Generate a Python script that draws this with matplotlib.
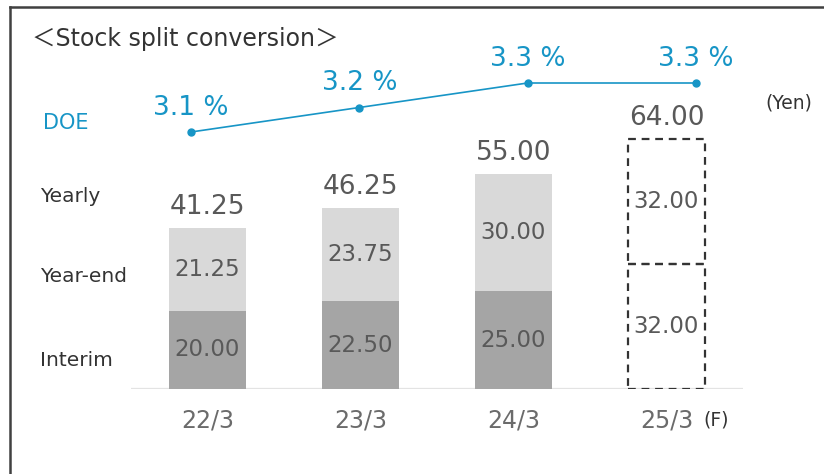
import matplotlib.pyplot as plt
from matplotlib.lines import Line2D
import numpy as np

# data
periods = ['22/3', '23/3', '24/3', '25/3']
interim = [20.00, 22.50, 25.00, 32.00]
year_end = [21.25, 23.75, 30.00, 32.00]
doe = [3.1, 3.2, 3.3, 3.3]
forecast = [False, False, False, True]

GRAY_TXT = '#595959'
DARK = '#a5a5a5'
LIGHT = '#d9d9d9'
BLUE = '#1795c6'
FONT = ['DejaVu Sans', 'Noto Sans CJK JP']

plt.rcParams['font.family'] = FONT

fig = plt.figure(figsize=(8.24, 4.74), dpi=100)
W, H = 824, 474
base_px = 389
# bar axes: baseline at y=389px, top of figure at top
ax = fig.add_axes([0, (H - base_px) / H, 1, base_px / H])
ax.set_xlim(-207.5 / 153, (W - 207.5) / 153)
ax.set_ylim(0, base_px / 3.906)
ax.axis('off')

x = np.arange(len(periods))
totals = [a + b for a, b in zip(interim, year_end)]
bw = 0.503

for i in x:
    if forecast[i]:
        ax.bar(i, interim[i], bw, facecolor='none', edgecolor='#333333',
               linestyle=(0, (3.5, 2.6)), linewidth=1.6, zorder=3)
        ax.bar(i, year_end[i], bw, bottom=interim[i], facecolor='none',
               edgecolor='#333333', linestyle=(0, (3.5, 2.6)), linewidth=1.6, zorder=3)
    else:
        ax.bar(i, interim[i], bw, color=DARK, zorder=2)
        ax.bar(i, year_end[i], bw, bottom=interim[i], color=LIGHT, zorder=2)
    ax.text(i, interim[i] / 2, f'{interim[i]:.2f}', ha='center', va='center',
            fontsize=16.5, color=GRAY_TXT, zorder=4)
    ax.text(i, interim[i] + year_end[i] / 2, f'{year_end[i]:.2f}', ha='center',
            va='center', fontsize=16.5, color=GRAY_TXT, zorder=4)
    ax.annotate(f'{totals[i]:.2f}', (i, totals[i]), xytext=(0, 6),
                textcoords='offset points', ha='center', va='bottom',
                fontsize=19, color=GRAY_TXT)
    ax.text(i, -8, periods[i], ha='center', va='center', fontsize=17,
            color='#6b6b6b')

ax.hlines(0, -0.5, 3.5, color='#e3e3e3', linewidth=1.6, zorder=1)
ax.text(3.24, -8, '(F)', ha='left', va='center', fontsize=13.5, color='#333333')

# row labels
lab_x = (40 - 207.5) / 153
for lab, yv in [('Yearly', 49.3), ('Year-end', 28.7), ('Interim', 7.4)]:
    ax.text(lab_x, yv, lab, ha='left', va='center', fontsize=14.5, color='#333333')

# DOE line on its own axes
ax2 = fig.add_axes([0, (H - base_px) / H, 1, base_px / H])
ax2.set_xlim(-191 / 168.3, (W - 191) / 168.3)
ylo = 3.1 - (base_px - 132) / 245
ax2.set_ylim(ylo, ylo + base_px / 245)
ax2.axis('off')
ax2.plot(x, doe, color=BLUE, linewidth=1.2, marker='o', markersize=5)
for i, v in zip(x, doe):
    ax2.annotate(f'{v} %', (i, v), xytext=(0, 8), textcoords='offset points',
                 ha='center', va='bottom', fontsize=19, color=BLUE)
ax2.text(-191 / 168.3 + 43 / 168.3, 3.1 + 9 / 245, 'DOE', ha='left', va='center',
         fontsize=15, color=BLUE)

fig.text(765 / W, 1 - 103 / H, '(Yen)', ha='left', va='center', fontsize=13.5,
         color='#333333')
fig.text(32 / W, 1 - 39 / H, '＜Stock split conversion＞', ha='left', va='center',
         fontsize=17, color='#333333', family=FONT)

# frame (left + top)
fig.add_artist(Line2D([10 / W, 10 / W], [0, 1 - 7 / H], color='#404040', linewidth=1.8))
fig.add_artist(Line2D([10 / W, 1], [1 - 7 / H, 1 - 7 / H], color='#404040', linewidth=1.8))

fig.savefig('out.png', dpi=100)
